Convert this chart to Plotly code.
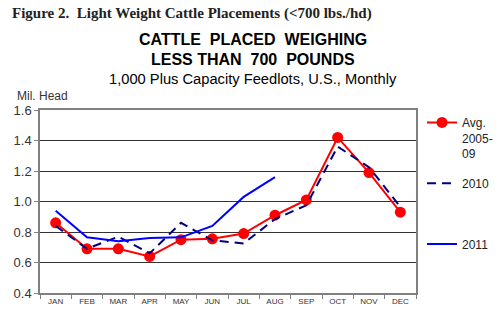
import plotly.graph_objects as go

months = ["JAN", "FEB", "MAR", "APR", "MAY", "JUN", "JUL", "AUG", "SEP", "OCT", "NOV", "DEC"]
avg_2005_09 = [0.86, 0.69, 0.69, 0.64, 0.75, 0.755, 0.79, 0.91, 1.01, 1.42, 1.19, 0.93]
y2010 = [0.84, 0.69, 0.77, 0.66, 0.86, 0.745, 0.725, 0.885, 0.975, 1.36, 1.225, 0.965]
y2011 = [0.94, 0.765, 0.74, 0.76, 0.765, 0.84, 1.03, 1.16]
yticks = [0.4, 0.6, 0.8, 1.0, 1.2, 1.4, 1.6]

fig = go.Figure()
fig.add_trace(go.Scatter(
    x=months, y=avg_2005_09, name="Avg.<br>2005-<br>09", mode="lines+markers",
    line=dict(color="#ff0000", width=2), marker=dict(size=11, color="#ff0000"),
    legendgroup="a"))
fig.add_trace(go.Scatter(
    x=months, y=y2010, name="2010<br>&nbsp;<br>&nbsp;", mode="lines",
    line=dict(color="#000080", width=2, dash="9px,6px"), legendgroup="b"))
fig.add_trace(go.Scatter(
    x=months[:len(y2011)], y=y2011, name="2011", mode="lines",
    line=dict(color="#0000ff", width=2), legendgroup="c"))

pl, pr, pt, pb = 40, 416, 110, 293
W, H = 500, 321

fig.update_layout(
    width=W, height=H,
    margin=dict(l=pl, r=W - pr, t=pt, b=H - pb, autoexpand=False),
    paper_bgcolor="white", plot_bgcolor="white",
    font=dict(family="Liberation Sans, Arial", color="black"),
    showlegend=True,
    legend=dict(x=1.016, xanchor="left", y=1.01, yanchor="top", maxheight=300,
                tracegroupgap=11, font=dict(size=12, family="Liberation Sans, Arial", color="#222222"),
                valign="top", itemwidth=30, bgcolor="rgba(0,0,0,0)"),
    xaxis=dict(type="category", range=[-0.5, 11.5], tickson="boundaries", ticks="outside",
               ticklen=4, tickcolor="#808080", showline=True, linecolor="#808080", linewidth=1.5,
               mirror=True, showgrid=False, tickfont=dict(size=8, color="#333333")),
    yaxis=dict(range=[0.4, 1.6], tickvals=yticks, ticktext=[f"{v:.1f}" for v in yticks],
               ticks="outside", ticklen=4, tickcolor="#808080", showline=True, linecolor="#808080",
               linewidth=1.5, mirror=True, showgrid=True, gridcolor="#333333", gridwidth=1,
               zeroline=False, tickfont=dict(size=13, color="#333333")),
)

annos = [
    dict(text="<b>Figure 2.  Light Weight Cattle Placements (&lt;700 lbs./hd)</b>",
         px=10, py=13, xanchor="left",
         font=dict(family="Liberation Serif, Times New Roman", size=15, color="#222222")),
    dict(text="<b>CATTLE  PLACED  WEIGHING</b>", px=253, py=39, xanchor="center",
         font=dict(size=16, color="black")),
    dict(text="<b>LESS THAN  700  POUNDS</b>", px=253, py=60, xanchor="center",
         font=dict(size=16, color="black")),
    dict(text="1,000 Plus Capacity Feedlots, U.S., Monthly", px=253, py=79, xanchor="center",
         font=dict(size=14.7, color="black")),
    dict(text="Mil. Head", px=15, py=96, xanchor="left",
         font=dict(size=12, color="#333333")),
]
for a in annos:
    px, py = a.pop("px"), a.pop("py")
    fig.add_annotation(xref="paper", yref="paper", showarrow=False, yanchor="middle",
                       x=(px - pl) / (pr - pl), y=(pb - py) / (pb - pt), **a)

fig.write_html("out.html")
